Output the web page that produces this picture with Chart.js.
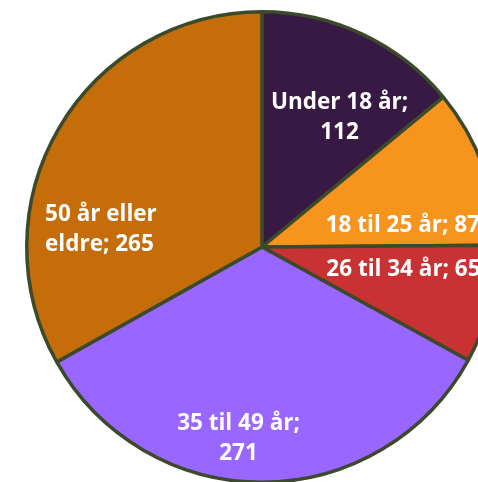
<!DOCTYPE html>
<html>
<head>
<meta charset="utf-8">
<script src="https://cdn.jsdelivr.net/npm/chart.js@4"></script>
<style>
  html, body { margin: 0; padding: 0; background: #fff; overflow: hidden; }
  body { width: 478px; height: 482px; position: relative; }
  #wrap { position: absolute; left: 0; top: 10px; width: 524px; height: 474px; }
</style>
</head>
<body>
<div id="wrap"><canvas id="pieChart"></canvas></div>
<script>
// =====================
// DATA
// =====================
const categories = ["Under 18 år", "18 til 25 år", "26 til 34 år", "35 til 49 år", "50 år eller eldre"];
const values = [112, 87, 65, 271, 265];
const colors = ["#381943", "#f7941d", "#c83232", "#9966ff", "#c46d0a"];

// label text lines (Excel style "category; value")
const labelLines = [
    ["Under 18 år;", "112"],
    ["18 til 25 år; 87"],
    ["26 til 34 år; 65"],
    ["35 til 49 år;", "271"],
    ["50 år eller", "eldre; 265"]
];

// label placement: angle from 12 o'clock (deg), fraction of radius, alignment
const labelPlace = [
    { angle: 31, r: 0.64, align: "center" },
    { angle: 71.8, r: 0.285, align: "left" },
    { angle: 109.5, r: 0.29, align: "left" },
    { angle: 187, r: 0.82, align: "center" },
    { angle: 274.5, r: 0.925, align: "left" }
];

// =====================
// LABEL PLUGIN
// =====================
const sliceLabels = {
    id: "sliceLabels",
    afterDatasetsDraw(chart) {
        const ctx = chart.ctx;
        const arc = chart.getDatasetMeta(0).data[0];
        const cx = arc.x, cy = arc.y, R = arc.outerRadius;
        ctx.save();
        ctx.fillStyle = "#ffffff";
        ctx.font = "bold 22.5px 'Open Sans', sans-serif";
        ctx.textBaseline = "middle";
        labelLines.forEach((lines, i) => {
            const p = labelPlace[i];
            const a = p.angle * Math.PI / 180;
            const x = cx + Math.sin(a) * R * p.r;
            const y = cy - Math.cos(a) * R * p.r;
            const lh = 30;
            const y0 = y - (lines.length - 1) * lh / 2;
            ctx.textAlign = p.align;
            lines.forEach((t, j) => {
                ctx.fillText(t, x, y0 + j * lh);
            });
        });
        ctx.restore();
    }
};

// =====================
// PIE CHART
// =====================
new Chart(document.getElementById("pieChart"), {
    type: "pie",
    data: {
        labels: categories,
        datasets: [{
            data: values,
            backgroundColor: colors,
            borderColor: "#3a4a2a",
            borderWidth: 3.5
        }]
    },
    options: {
        responsive: true,
        maintainAspectRatio: false,
        animation: false,
        layout: { padding: 0 },
        plugins: {
            legend: { display: false },
            tooltip: { enabled: false }
        }
    },
    plugins: [sliceLabels]
});
</script>
</body>
</html>
